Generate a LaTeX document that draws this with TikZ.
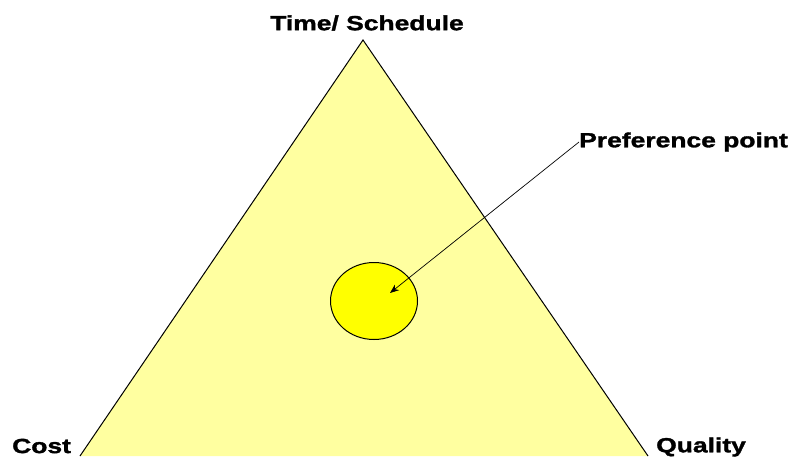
\documentclass[tikz,border=0pt]{standalone}
\usepackage{fontspec}
\setmainfont{Liberation Sans}
\newfontfamily\labelfont[FakeStretch=1.29,FakeBold=1.5]{Liberation Sans Bold}
\usetikzlibrary{arrows.meta,shapes.geometric}
\definecolor{paleyellow}{RGB}{255,255,160}
\definecolor{brightyellow}{RGB}{255,255,0}
\tikzset{
  corner/.style={font=\labelfont\fontsize{20.5}{24}\selectfont,inner sep=0pt},
}
\begin{document}
\begin{tikzpicture}[x=1pt,y=-1pt]
  \useasboundingbox (0,0) rectangle (789,457);
  % triangle
  \coordinate (top) at (363,40);
  \coordinate (left) at (80,456);
  \coordinate (right) at (648,456);
  \fill[paleyellow] (left) -- (top) -- (right) -- cycle;
  \draw[line width=1pt] (left) -- (top) -- (right);
  % preference region
  \node[draw,ellipse,fill=brightyellow,line width=1pt,minimum width=87pt,minimum height=77pt,inner sep=0pt] (pref) at (374,301) {};
  % labels
  \node[corner] (timelab) at (367,23) {Time/ Schedule};
  \node[corner,anchor=west] (preflab) at (579,142) {Preference point};
  \node[corner,anchor=west] (costlab) at (12,446) {Cost};
  \node[corner,anchor=west] (quallab) at (656,447) {Quality};
  \coordinate (tip) at (390,293);
  \draw[line width=0.7pt,-{Stealth[length=9pt,width=7pt]}] (preflab.west) -- (tip);
\end{tikzpicture}
\end{document}
